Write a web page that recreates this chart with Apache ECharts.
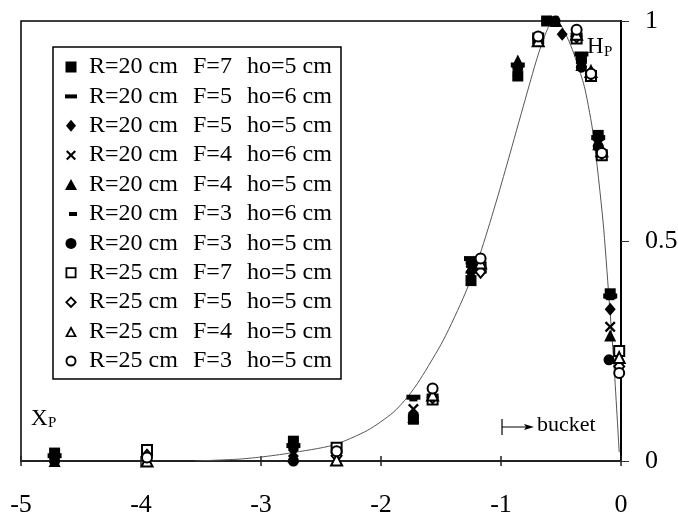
<!DOCTYPE html>
<html>
<head>
<meta charset="utf-8">
<script src="https://cdn.jsdelivr.net/npm/echarts@6/dist/echarts.min.js"></script>
<style>html,body{margin:0;padding:0;background:#fff}#c{width:678px;height:512px}</style>
</head>
<body>
<div id="c"></div>
<script>
// ---- data ----
const seriesNames = [
  'R=20 cm  F=7  ho=5 cm',
  'R=20 cm  F=5  ho=6 cm',
  'R=20 cm  F=5  ho=5 cm',
  'R=20 cm  F=4  ho=6 cm',
  'R=20 cm  F=4  ho=5 cm',
  'R=20 cm  F=3  ho=6 cm',
  'R=20 cm  F=3  ho=5 cm',
  'R=25 cm  F=7  ho=5 cm',
  'R=25 cm  F=5  ho=5 cm',
  'R=25 cm  F=4  ho=5 cm',
  'R=25 cm  F=3  ho=5 cm'
];
const r20F7h5 = [[-4.72,0.018],[-2.73,0.045],[-1.73,0.095],[-1.25,0.41],[-0.86,0.875],[-0.62,1.0],[-0.33,0.915],[-0.19,0.74],[-0.09,0.38]];
const r20F5h6 = [[-4.72,0.012],[-2.73,0.035],[-1.73,0.145],[-1.25,0.46],[-0.86,0.9],[-0.6,1.0],[-0.33,0.925],[-0.19,0.735],[-0.09,0.375]];
const r20F5h5 = [[-4.72,0.008],[-2.73,0.025],[-1.73,0.105],[-1.25,0.43],[-0.86,0.89],[-0.49,0.97],[-0.33,0.91],[-0.19,0.73],[-0.09,0.345]];
const r20F4h6 = [[-4.72,0.006],[-2.73,0.02],[-1.73,0.118],[-1.25,0.45],[-0.86,0.885],[-0.56,1.0],[-0.33,0.905],[-0.19,0.725],[-0.09,0.305]];
const r20F4h5 = [[-4.72,0.0],[-2.73,0.01],[-1.73,0.1],[-1.25,0.44],[-0.86,0.91],[-0.54,1.0],[-0.33,0.9],[-0.19,0.72],[-0.09,0.285]];
const r20F3h6 = [[-4.72,0.01],[-2.73,0.03],[-1.73,0.14],[-1.25,0.42],[-0.86,0.9],[-0.58,1.0],[-0.33,0.92],[-0.19,0.73],[-0.09,0.37]];
const r20F3h5 = [[-4.72,0.0],[-2.73,0.0],[-1.73,0.1],[-1.25,0.45],[-0.86,0.895],[-0.55,1.0],[-0.33,0.895],[-0.19,0.715],[-0.1,0.23]];
const r25F7h5 = [[-3.95,0.025],[-2.37,0.03],[-1.57,0.14],[-1.17,0.44],[-0.69,0.96],[-0.37,0.96],[-0.25,0.875],[-0.16,0.695],[-0.015,0.25]];
const r25F5h5 = [[-3.95,0.012],[-2.37,0.012],[-1.57,0.145],[-1.17,0.43],[-0.69,0.96],[-0.37,0.965],[-0.25,0.88],[-0.16,0.7],[-0.015,0.215]];
const r25F4h5 = [[-3.95,0.0],[-2.37,0.002],[-1.57,0.15],[-1.17,0.45],[-0.69,0.955],[-0.37,0.97],[-0.25,0.885],[-0.16,0.705],[-0.015,0.235]];
const r25F3h5 = [[-3.95,0.008],[-2.37,0.022],[-1.57,0.165],[-1.17,0.46],[-0.69,0.965],[-0.37,0.98],[-0.25,0.88],[-0.16,0.7],[-0.015,0.2]];
const fitCurve = [[-3.55,0],[-3.2,0.004],[-3.0,0.009],[-2.76,0.018],[-2.4,0.036],[-2.11,0.07],[-1.9,0.11],[-1.78,0.145],[-1.675,0.185],[-1.48,0.275],[-1.3,0.38],[-1.175,0.47],[-1.05,0.58],[-0.94,0.684],[-0.8,0.82],[-0.7,0.915],[-0.63,0.97],[-0.57,1.0],[-0.5,0.99],[-0.42,0.945],[-0.36,0.9],[-0.3,0.845],[-0.23,0.74],[-0.15,0.545],[-0.1,0.37],[-0.06,0.225],[-0.015,0.02]];
const xTicks = [-5,-4,-3,-2,-1,0];
const yTicks = [0,0.5,1];

// ---- styling ----
const FONT = 'Liberation Serif';
const PAD = ' M0,0h0 M12,12h0';
const xPath = 'path://M0,1.5L1.5,0L5,3.5L8.5,0L10,1.5L6.5,5L10,8.5L8.5,10L5,6.5L1.5,10L0,8.5L3.5,5Z';
const seriesData = [r20F7h5, r20F5h6, r20F5h5, r20F4h6, r20F4h5, r20F3h6, r20F3h5, r25F7h5, r25F5h5, r25F4h5, r25F3h5];
const plotSymbols = [
  ['rect', 11], ['rect', [14,5]], ['diamond', [11,13]], [xPath, 11], ['triangle', 12],
  ['rect', [8,4]], ['circle', 11], ['emptyRect', 10], ['emptyDiamond', [10,12]], ['emptyTriangle', 11], ['emptyCircle', 10]
];
const legendIcons = [
  'path://M0.5,0.5h11v11h-11z' + PAD,
  'path://M0,4h12v4h-12z' + PAD,
  'path://M6,0L11,6L6,12L1,6z' + PAD,
  'path://M1,2.5L2.5,1L6,4.5L9.5,1L11,2.5L7.5,6L11,9.5L9.5,11L6,7.5L2.5,11L1,9.5L4.5,6Z' + PAD,
  'path://M6,0.5L12,11.5H0Z' + PAD,
  'path://M4,4h8v4h-8z' + PAD,
  'path://M6,0.5A5.5,5.5 0 1 1 6,11.5A5.5,5.5 0 1 1 6,0.5Z' + PAD,
  'path://M0.5,0.5h11v11h-11z M2.3,2.3v7.4h7.4v-7.4z' + PAD,
  'path://M6,0L12,6L6,12L0,6z M6,2.6L2.6,6L6,9.4L9.4,6z' + PAD,
  'path://M6,0.5L12,11.5H0z M6,4.2L2.9,9.8H9.1z' + PAD,
  'path://M6,0.5A5.5,5.5 0 1 1 6,11.5A5.5,5.5 0 1 1 6,0.5Z M6,2.4A3.6,3.6 0 1 0 6,9.6A3.6,3.6 0 1 0 6,2.4Z' + PAD
];

const series = seriesNames.map((name, i) => ({
  name: name,
  type: 'scatter',
  data: seriesData[i],
  symbol: plotSymbols[i][0],
  symbolSize: plotSymbols[i][1],
  clip: false,
  itemStyle: i >= 7 ? { color: '#000', borderColor: '#000', borderWidth: 2, opacity: 1 } : { color: '#000', borderWidth: 0, opacity: 1 },
  emphasis: { disabled: true },
  z: 3
}));
series.push({
  name: 'fit', type: 'line', data: fitCurve, showSymbol: false, symbol: 'none',
  smooth: 0.25,
  lineStyle: { color: '#555', width: 1 }, z: 2, silent: true
});

const chart = echarts.init(document.getElementById('c'), null, { renderer: 'canvas' });
chart.setOption({
  animation: false,
  backgroundColor: '#fff',
  textStyle: { fontFamily: FONT },
  grid: { left: 21, right: 57, top: 21, bottom: 51, show: true, borderColor: '#000', borderWidth: 1.5, outerBoundsMode: 'none', containLabel: false },
  legend: {
    orient: 'vertical', left: 53, top: 47,
    padding: [8, 9, 6, 12],
    borderColor: '#000', borderWidth: 1.5, backgroundColor: '#fff',
    itemWidth: 26, itemHeight: 12, itemGap: 5.4,
    symbolKeepAspect: true,
    itemStyle: { borderWidth: 0, color: '#000', opacity: 1 },
    data: seriesNames.map((n, i) => ({ name: n, icon: legendIcons[i] })),
    selectedMode: false,
    formatter: function (name) {
      const p = name.split('  ');
      return '{a|' + p[0] + '}{b|' + p[1] + '}{c|' + p[2] + '}';
    },
    textStyle: {
      fontFamily: FONT, fontSize: 24, color: '#000', lineHeight: 24,
      rich: {
        a: { width: 104, fontFamily: FONT, fontSize: 24, color: '#000' },
        b: { width: 54, fontFamily: FONT, fontSize: 24, color: '#000' },
        c: { width: 85, fontFamily: FONT, fontSize: 24, color: '#000' }
      }
    }
  },
  xAxis: [{
    type: 'value', min: xTicks[0], max: xTicks[xTicks.length - 1], interval: 1,
    position: 'bottom',
    axisLine: { show: true, onZero: false, lineStyle: { color: '#222', width: 2 } },
    axisTick: { show: true, inside: false, length: 5, lineStyle: { color: '#222', width: 1.5 } },
    axisLabel: { show: true, margin: 31, fontFamily: FONT, fontSize: 26, color: '#000', showMinLabel: true, showMaxLabel: true },
    splitLine: { show: false }
  }, {
    type: 'value', min: xTicks[0], max: xTicks[xTicks.length - 1], interval: 1,
    position: 'bottom',
    axisLine: { show: false },
    axisTick: { show: true, inside: true, length: 5, lineStyle: { color: '#222', width: 1.5 } },
    axisLabel: { show: false },
    splitLine: { show: false }
  }],
  yAxis: {
    type: 'value', min: yTicks[0], max: yTicks[yTicks.length - 1], interval: 0.5,
    position: 'right',
    axisLine: { show: true, onZero: false, lineStyle: { color: '#000', width: 2 } },
    axisTick: { show: true, inside: false, length: 8, lineStyle: { color: '#333', width: 1 } },
    axisLabel: { show: true, margin: 24, fontFamily: FONT, fontSize: 26, color: '#000', showMinLabel: true, showMaxLabel: true },
    splitLine: { show: false }
  },
  graphic: [
    { type: 'text', left: 31, top: 407, style: { text: 'X', font: '23px "Liberation Serif"', fill: '#000' } },
    { type: 'text', left: 48, top: 416, style: { text: 'P', font: '15px "Liberation Serif"', fill: '#000' } },
    { type: 'text', left: 587, top: 35, style: { text: 'H', font: '23px "Liberation Serif"', fill: '#000' } },
    { type: 'text', left: 604, top: 45, style: { text: 'P', font: '15px "Liberation Serif"', fill: '#000' } },
    { type: 'text', left: 537, top: 414, style: { text: 'bucket', font: '22px "Liberation Serif"', fill: '#000' } },
    { type: 'line', shape: { x1: 502, y1: 419, x2: 502, y2: 435 }, style: { stroke: '#000', lineWidth: 1.2 } },
    { type: 'line', shape: { x1: 502, y1: 427, x2: 526, y2: 427 }, style: { stroke: '#000', lineWidth: 1 } },
    { type: 'polygon', shape: { points: [[524, 424], [534, 427], [524, 430], [526, 427]] }, style: { fill: '#000' } }
  ],
  series: series
});
</script>
</body>
</html>
